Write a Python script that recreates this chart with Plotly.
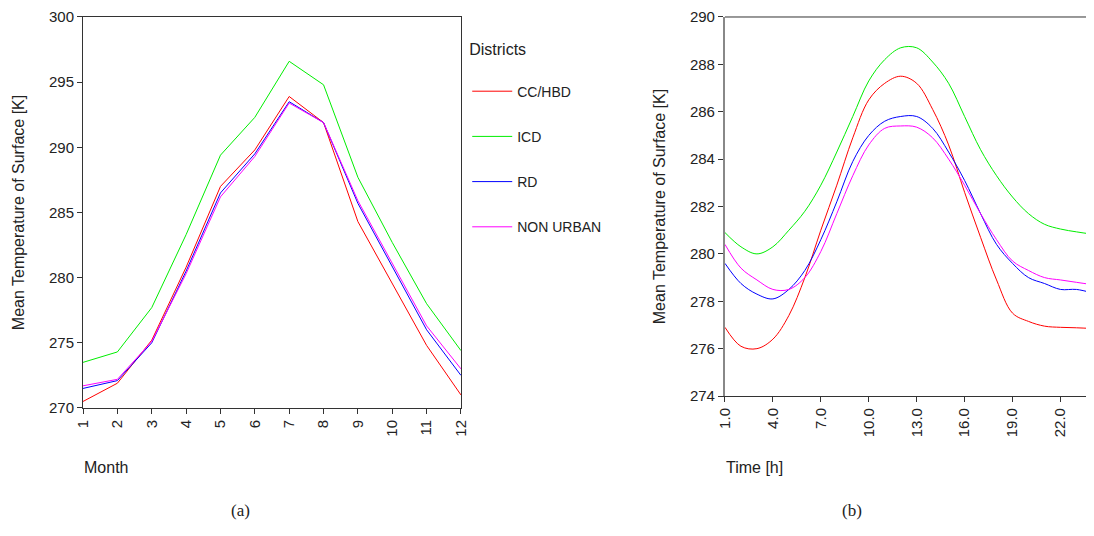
import plotly.graph_objects as go

months = list(range(1, 13))
cc_month = [270.5, 271.9, 275.2, 280.8, 287.0, 289.8, 293.9, 291.9, 284.3, 279.5, 274.8, 271.0]
icd_month = [273.5, 274.3, 277.7, 283.3, 289.4, 292.3, 296.6, 294.8, 287.7, 282.7, 278.0, 274.4]
rd_month = [271.5, 272.1, 275.0, 280.5, 286.5, 289.5, 293.5, 291.9, 285.7, 280.8, 276.0, 272.5]
nu_month = [271.7, 272.2, 275.1, 280.3, 286.2, 289.3, 293.4, 291.9, 285.9, 281.1, 276.3, 273.0]

hours = list(range(1, 25))
cc_hour = [276.9, 276.1, 276.0, 276.4, 277.4, 279.0, 281.0, 282.9, 284.9, 286.5, 287.2, 287.5,
           287.2, 286.1, 284.6, 282.6, 280.7, 278.9, 277.5, 277.15, 276.95, 276.9, 276.88, 276.85]
icd_hour = [280.9, 280.3, 280.0, 280.3, 281.0, 281.8, 282.9, 284.3, 285.8, 287.3, 288.2, 288.7,
            288.7, 288.1, 287.2, 285.8, 284.4, 283.3, 282.4, 281.7, 281.25, 281.05, 280.93, 280.83]
rd_hour = [279.6, 278.75, 278.3, 278.1, 278.5, 279.3, 280.6, 282.2, 283.9, 285.0, 285.6, 285.8,
           285.8, 285.3, 284.3, 283.1, 281.7, 280.4, 279.6, 279.0, 278.75, 278.5, 278.5, 278.35]
nu_hour = [280.4, 279.4, 278.9, 278.5, 278.5, 279.0, 280.1, 281.7, 283.3, 284.6, 285.3, 285.4,
           285.35, 284.9, 284.0, 282.9, 281.7, 280.6, 279.7, 279.3, 279.0, 278.9, 278.8, 278.7]

names = ["CC/HBD", "ICD", "RD", "NON URBAN"]
colors = ["#ff0000", "#00ee00", "#0000ff", "#ff00ff"]
hour_ticks = [1, 4, 7, 10, 13, 16, 19, 22]

font = "Liberation Sans, Arial, sans-serif"
fig = go.Figure()
for name, color, ym, yh in zip(names, colors,
                               [cc_month, icd_month, rd_month, nu_month],
                               [cc_hour, icd_hour, rd_hour, nu_hour]):
    fig.add_trace(go.Scatter(x=months, y=ym, mode="lines", name=name, legendgroup=name,
                             line=dict(color=color, width=1), xaxis="x", yaxis="y"))
    fig.add_trace(go.Scatter(x=hours, y=yh, mode="lines", name=name, legendgroup=name,
                             showlegend=False, line=dict(color=color, width=1, shape="spline"),
                             xaxis="x2", yaxis="y2"))

ax = dict(showline=True, linecolor="#333", linewidth=1, ticks="outside", ticklen=5,
          tickcolor="#333", showgrid=False, zeroline=False, automargin=False,
          tickfont=dict(size=15, color="#222"))
ytitle = dict(text="Mean Temperature of Surface [K]", font=dict(size=16), standoff=20)
fig.update_layout(
    width=1078, height=520, plot_bgcolor="white", paper_bgcolor="white",
    margin=dict(l=0, r=0, t=0, b=0), font=dict(family=font, color="#222"),
    xaxis=dict(ax, domain=[0.0696, 0.4202], range=[1, 12], tickvals=months,
               tickangle=-90, mirror=True),
    yaxis=dict(ax, domain=[0.2308, 0.9827], range=[270, 300], dtick=5, mirror=True,
               title=ytitle),
    xaxis2=dict(ax, domain=[0.6651, 1.0], range=[1, 23.6], tickvals=hour_ticks,
                ticktext=[f"{t:.1f}" for t in hour_ticks], tickangle=-90, anchor="y2"),
    yaxis2=dict(ax, domain=[0.2538, 0.9827], range=[274, 290], dtick=2, anchor="x2",
                linecolor="#888", linewidth=2, title=ytitle),
    legend=dict(x=0.426, y=0.95, xanchor="left", yanchor="top", tracegroupgap=24,
                font=dict(size=14), title=dict(text="Districts<br> ", font=dict(size=16)),
                itemwidth=40),
    showlegend=True,
)
# top border on right panel
fig.add_shape(type="line", xref="x2 domain", yref="y2 domain", x0=0, x1=1, y0=1, y1=1,
              line=dict(color="#333", width=1))
for text, x, y, size in [("Month", 0.0686, 0.096, 16), ("Time [h]", 0.664, 0.096, 16),
                         ("(a)", 0.216, 0.0115, 15), ("(b)", 0.783, 0.0115, 15)]:
    fig.add_annotation(text=text, x=x, y=y, xref="paper", yref="paper", showarrow=False,
                       xanchor="left" if size == 16 else "center",
                       font=dict(size=size if size == 16 else 17,
                                 family=font if size == 16 else "Liberation Serif"))
fig.write_html("out.html")
